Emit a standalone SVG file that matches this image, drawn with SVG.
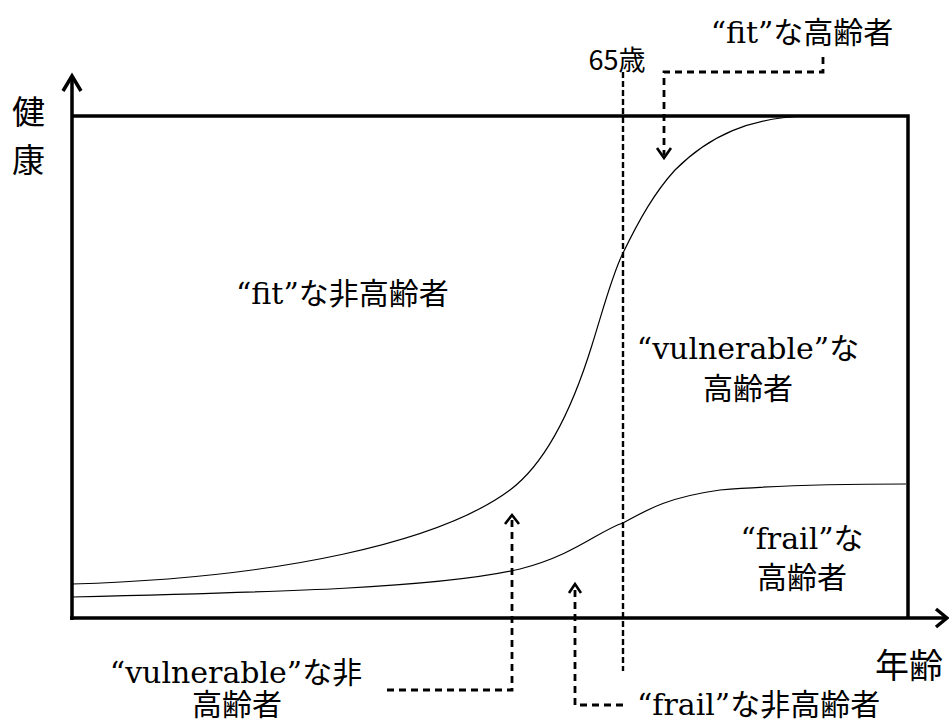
<svg xmlns="http://www.w3.org/2000/svg" width="949" height="722" viewBox="0 0 949 722">
<style>
.t{font-family:'DejaVu Serif','Noto Sans CJK JP',serif;font-size:30px;fill:#000}
.j{font-family:'Noto Sans CJK JP',sans-serif;fill:#000}
.axis{fill:none;stroke:#000;stroke-width:3.5}
.curve{fill:none;stroke:#000;stroke-width:1.2}
.dash{fill:none;stroke:#000;stroke-width:2.8;stroke-dasharray:7 5}
.dash65{fill:none;stroke:#000;stroke-width:2.4;stroke-dasharray:6 3}
.head{fill:none;stroke:#000;stroke-width:2.6}
</style>
<rect width="949" height="722" fill="#fff"/>
<g id="frame">
<polyline class="axis" points="72,116 908,116 908,618"/>
<line class="axis" x1="72" y1="620" x2="72" y2="76"/>
<polyline class="axis" points="63,91 72,76 81,91"/>
<line class="axis" x1="70" y1="618" x2="946" y2="618"/>
<polyline class="axis" points="936,609 947,618 936,627"/>
</g>
<g id="curves">
<path class="curve" d="M72,584 C280,578 440,542 510,490 C550,460 575,400 592,345 C603,310 612,275 623,253 C640,218 655,192 675,170 C710,135 750,118 805,116"/>
<path class="curve" d="M72,597 C280,592 440,588 520,569 C575,555 600,530 623,523 C650,508 670,497 720,490 C790,484 860,484 906,484"/>
</g>
<g id="connectors">
<line class="dash65" x1="623" y1="72" x2="623" y2="671"/>
<polyline class="dash" points="823,57 823,72 664,72 664,155"/>
<polyline class="head" points="657,148 664,158 671,148"/>
<polyline class="dash" points="387,690 512,690 512,518"/>
<polyline class="head" points="505,524 512,515 519,524"/>
<polyline class="dash" points="623,705 575,705 575,587"/>
<polyline class="head" points="569,593 575,584 581,593"/>
</g>
<g id="label-health"><text class="j" font-size="33" x="12" y="124">健</text><text class="j" font-size="33" x="12" y="172">康</text></g>
<g id="label-age"><text class="j" font-size="34" x="875" y="678">年齢</text></g>
<g id="label-65"><text class="j" font-size="27" x="617" y="70" text-anchor="middle">65歳</text></g>
<g id="fit-elderly"><text class="t" x="802" y="43" text-anchor="middle">“fit”な高齢者</text></g>
<g id="fit-nonelderly"><text class="t" x="236" y="304">“fit”な非高齢者</text></g>
<g id="vulnerable-elderly"><text class="t" x="748" y="359" text-anchor="middle">“vulnerable”な</text><text class="t" x="748" y="399" text-anchor="middle">高齢者</text></g>
<g id="frail-elderly"><text class="t" x="802" y="549" text-anchor="middle">“frail”な</text><text class="t" x="802" y="588" text-anchor="middle">高齢者</text></g>
<g id="vulnerable-nonelderly"><text class="t" x="236" y="683" text-anchor="middle">“vulnerable”な非</text><text class="t" x="237" y="715" text-anchor="middle">高齢者</text></g>
<g id="frail-nonelderly"><text class="t" x="637" y="715">“frail”な非高齢者</text></g>
</svg>
